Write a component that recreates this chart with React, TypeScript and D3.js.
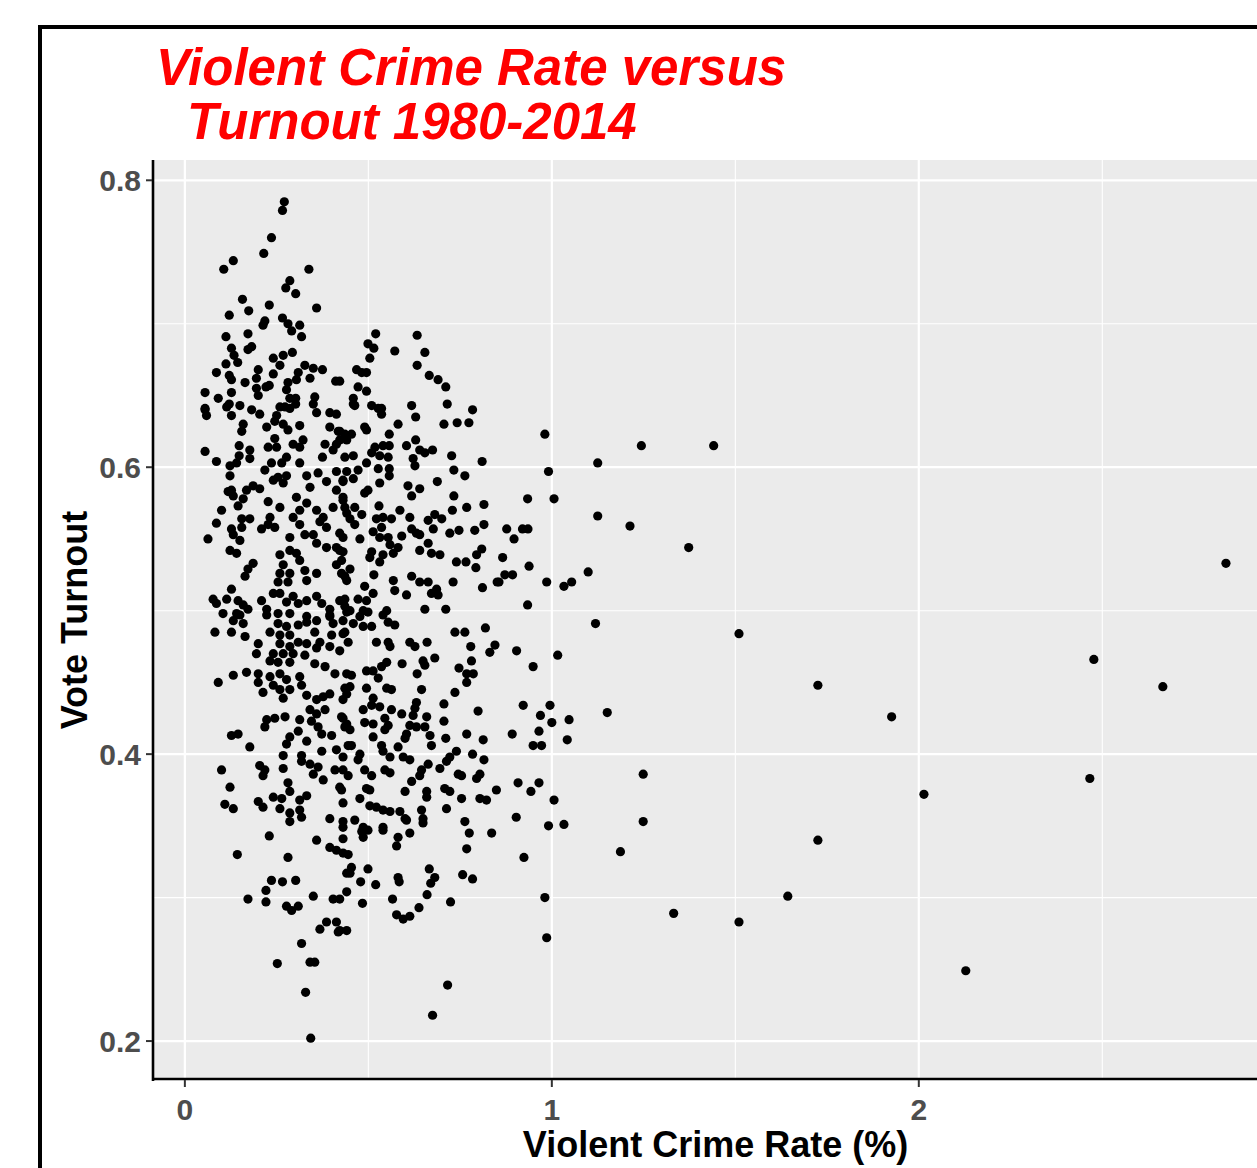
import * as d3 from "d3";

// Violent crime rate (%) vs vote turnout, one point per state-year
const crimeTurnout: [number, number][] = [
  [0.271,0.785],[0.266,0.779],[0.236,0.760],[0.215,0.749],[0.132,0.744],[0.106,0.738],[0.338,0.738],[0.286,0.730],[0.275,0.725],[0.302,0.721],
  [0.157,0.717],[0.174,0.709],[0.230,0.713],[0.359,0.711],[0.121,0.706],[0.266,0.704],[0.218,0.702],[0.213,0.699],[0.281,0.700],[0.291,0.695],
  [0.313,0.699],[0.318,0.691],[0.112,0.691],[0.172,0.693],[0.182,0.684],[0.172,0.682],[0.127,0.683],[0.134,0.678],[0.144,0.673],[0.112,0.672],
  [0.086,0.666],[0.241,0.676],[0.268,0.678],[0.293,0.680],[0.259,0.671],[0.200,0.668],[0.195,0.662],[0.121,0.664],[0.127,0.661],[0.164,0.659],
  [0.241,0.665],[0.230,0.657],[0.221,0.656],[0.327,0.671],[0.309,0.666],[0.350,0.669],[0.375,0.668],[0.341,0.662],[0.411,0.660],[0.281,0.659],
  [0.304,0.661],[0.055,0.652],[0.091,0.648],[0.127,0.652],[0.195,0.655],[0.200,0.650],[0.277,0.654],[0.286,0.648],[0.302,0.648],[0.354,0.649],
  [0.350,0.644],[0.121,0.644],[0.150,0.643],[0.055,0.641],[0.259,0.642],
  [0.520,0.693],[0.633,0.692],[0.499,0.686],[0.515,0.683],[0.572,0.681],[0.654,0.680],[0.504,0.676],[0.633,0.671],[0.468,0.668],[0.482,0.666],
  [0.495,0.666],[0.666,0.664],[0.690,0.661],[0.711,0.656],[0.422,0.660],[0.472,0.656],[0.495,0.653],[0.459,0.648],[0.463,0.643],[0.509,0.643],
  [0.536,0.641],[0.618,0.643],[0.715,0.644],[0.784,0.640],
  [0.055,0.640],[0.059,0.636],[0.114,0.642],[0.127,0.636],[0.182,0.640],[0.204,0.637],[0.250,0.636],[0.273,0.642],[0.286,0.641],[0.302,0.644],
  [0.359,0.638],[0.395,0.638],[0.413,0.637],[0.159,0.630],[0.155,0.625],[0.223,0.628],[0.245,0.632],[0.268,0.630],[0.281,0.626],[0.313,0.629],
  [0.395,0.628],[0.418,0.625],[0.436,0.623],[0.245,0.620],[0.227,0.614],[0.250,0.614],[0.295,0.616],[0.322,0.619],[0.313,0.614],[0.382,0.616],
  [0.413,0.616],[0.441,0.619],[0.148,0.615],[0.055,0.611],[0.177,0.612],[0.177,0.606],[0.148,0.608],[0.141,0.603],[0.123,0.601],[0.086,0.604],
  [0.277,0.607],[0.264,0.603],[0.313,0.603],[0.375,0.607],[0.404,0.612],[0.436,0.607],[0.123,0.594],[0.218,0.598],[0.236,0.603],[0.254,0.593],
  [0.277,0.594],[0.268,0.589],[0.241,0.591],[0.186,0.587],[0.204,0.585],[0.168,0.584],[0.332,0.594],[0.363,0.596],[0.386,0.590],[0.413,0.597],
  [0.431,0.590],[0.341,0.586],[0.413,0.584],[0.127,0.584],[0.118,0.583],[0.132,0.580],[0.159,0.578],[0.145,0.573],[0.227,0.576],[0.259,0.572],
  [0.304,0.579],[0.332,0.575],[0.295,0.565],[0.313,0.570],[0.359,0.570],[0.377,0.565],[0.404,0.572],[0.431,0.577],[0.441,0.568],[0.100,0.570],
  [0.155,0.564],[0.177,0.564],[0.232,0.565],[0.086,0.561],[0.127,0.557],[0.155,0.558],[0.132,0.553],[0.150,0.549],[0.063,0.550],[0.209,0.557],
  [0.227,0.560],[0.245,0.558],[0.286,0.551],[0.313,0.560],[0.327,0.553],[0.350,0.553],[0.359,0.547],[0.386,0.544],[0.413,0.544],[0.431,0.551],
  [0.386,0.558],[0.368,0.562],[0.123,0.542],[0.141,0.540],[0.259,0.539],[0.286,0.542],[0.304,0.540],[0.431,0.541],[0.186,0.533],[0.172,0.529],
  [0.164,0.524],[0.268,0.532],[0.286,0.526],[0.259,0.526],[0.313,0.535],[0.327,0.528],[0.332,0.521],[0.359,0.526],[0.254,0.520],[0.281,0.520],
  [0.413,0.532],[0.427,0.526],[0.441,0.521],[0.127,0.515],[0.077,0.508],[0.086,0.505],[0.114,0.508],[0.145,0.507],[0.159,0.504],[0.172,0.501],
  [0.209,0.507],[0.223,0.501],[0.241,0.512],[0.259,0.512],[0.277,0.506],[0.295,0.510],[0.309,0.505],[0.332,0.507],[0.359,0.510],[0.373,0.505],
  [0.395,0.501],[0.422,0.507],[0.436,0.503],[0.104,0.498],[0.141,0.498],[0.254,0.498],[0.286,0.498],[0.332,0.496],[0.395,0.496],
  [0.459,0.644],[0.527,0.641],[0.536,0.637],[0.629,0.635],[0.490,0.628],[0.495,0.626],[0.454,0.623],[0.557,0.623],[0.581,0.630],[0.706,0.630],
  [0.742,0.631],[0.774,0.631],[0.422,0.625],[0.422,0.619],[0.518,0.614],[0.540,0.615],[0.557,0.615],[0.509,0.610],[0.531,0.608],[0.554,0.607],
  [0.459,0.608],[0.604,0.615],[0.629,0.619],[0.640,0.612],[0.654,0.610],[0.675,0.612],[0.622,0.606],[0.627,0.601],[0.727,0.608],[0.810,0.604],
  [0.472,0.598],[0.495,0.603],[0.527,0.599],[0.557,0.599],[0.557,0.594],[0.441,0.597],[0.431,0.591],[0.459,0.592],[0.531,0.589],[0.499,0.584],
  [0.490,0.582],[0.608,0.587],[0.640,0.585],[0.618,0.580],[0.688,0.590],[0.733,0.598],[0.763,0.594],[0.733,0.580],[0.431,0.579],[0.436,0.572],
  [0.463,0.572],[0.529,0.573],[0.586,0.570],[0.729,0.570],[0.768,0.572],[0.815,0.574],[0.450,0.564],[0.482,0.567],[0.522,0.564],[0.540,0.565],
  [0.563,0.564],[0.536,0.558],[0.613,0.565],[0.663,0.563],[0.681,0.567],[0.700,0.564],[0.677,0.557],[0.463,0.560],[0.477,0.550],[0.422,0.554],
  [0.722,0.554],[0.747,0.556],[0.790,0.556],[0.815,0.560],[0.513,0.555],[0.531,0.551],[0.554,0.551],[0.591,0.552],[0.618,0.557],[0.631,0.554],
  [0.640,0.553],[0.559,0.546],[0.581,0.544],[0.568,0.540],[0.663,0.547],[0.640,0.542],[0.672,0.540],[0.695,0.539],[0.809,0.543],[0.795,0.539],
  [0.509,0.541],[0.504,0.537],[0.540,0.539],[0.531,0.534],[0.422,0.542],[0.427,0.535],[0.450,0.529],[0.436,0.524],[0.740,0.534],[0.766,0.534],
  [0.793,0.530],[0.515,0.525],[0.618,0.524],[0.640,0.520],[0.663,0.520],[0.568,0.521],[0.572,0.514],[0.604,0.511],[0.672,0.512],[0.690,0.511],
  [0.686,0.515],[0.731,0.520],[0.811,0.516],[0.851,0.520],[0.490,0.517],[0.513,0.512],[0.472,0.508],[0.495,0.507],[0.436,0.508],[0.450,0.500],
  [0.486,0.500],[0.499,0.499],[0.550,0.500],[0.654,0.501],[0.711,0.501],
  [0.132,0.493],[0.150,0.497],[0.159,0.491],[0.082,0.485],[0.127,0.485],[0.164,0.482],[0.200,0.477],[0.195,0.470],[0.223,0.497],[0.254,0.491],
  [0.277,0.489],[0.232,0.485],[0.259,0.483],[0.286,0.483],[0.309,0.490],[0.332,0.492],[0.359,0.493],[0.354,0.485],[0.395,0.497],[0.404,0.491],
  [0.431,0.493],[0.436,0.485],[0.400,0.483],[0.368,0.478],[0.359,0.474],[0.332,0.477],[0.309,0.478],[0.286,0.475],[0.259,0.477],[0.395,0.475],
  [0.422,0.472],[0.241,0.470],[0.268,0.470],[0.295,0.470],[0.327,0.469],[0.232,0.465],[0.254,0.464],[0.286,0.464],[0.354,0.463],[0.382,0.461],
  [0.409,0.456],[0.441,0.456],[0.132,0.455],[0.168,0.457],[0.091,0.450],[0.200,0.456],[0.200,0.450],[0.213,0.443],[0.232,0.454],[0.241,0.448],
  [0.259,0.456],[0.277,0.452],[0.286,0.445],[0.259,0.445],[0.268,0.439],[0.313,0.454],[0.318,0.448],[0.332,0.441],[0.359,0.438],[0.377,0.440],
  [0.395,0.442],[0.436,0.446],[0.223,0.424],[0.218,0.419],[0.245,0.425],[0.273,0.426],[0.313,0.424],[0.341,0.431],[0.359,0.428],[0.382,0.431],
  [0.345,0.423],[0.363,0.419],[0.373,0.414],[0.400,0.413],[0.431,0.425],[0.436,0.419],[0.127,0.413],[0.145,0.414],[0.177,0.405],[0.309,0.416],
  [0.286,0.412],[0.277,0.407],[0.332,0.409],[0.268,0.399],[0.318,0.399],[0.373,0.402],[0.413,0.403],[0.431,0.398],[0.445,0.406],[0.100,0.389],
  [0.204,0.392],[0.218,0.389],[0.213,0.385],[0.268,0.390],[0.318,0.395],[0.341,0.393],[0.363,0.391],[0.350,0.386],[0.377,0.382],[0.409,0.389],
  [0.431,0.389],[0.123,0.377],[0.281,0.380],[0.286,0.374],[0.241,0.370],[0.264,0.369],[0.313,0.368],[0.332,0.371],[0.427,0.375],[0.431,0.366],
  [0.109,0.365],[0.132,0.362],[0.200,0.367],[0.213,0.363],[0.259,0.362],[0.286,0.359],[0.313,0.361],[0.318,0.356],[0.286,0.353],[0.395,0.355],
  [0.431,0.353],
  [0.441,0.499],[0.477,0.496],[0.459,0.491],[0.486,0.489],[0.509,0.489],[0.540,0.497],[0.554,0.492],[0.572,0.490],[0.736,0.485],[0.763,0.485],
  [0.819,0.488],[0.431,0.484],[0.445,0.478],[0.522,0.478],[0.554,0.478],[0.559,0.475],[0.613,0.478],[0.627,0.475],[0.660,0.478],[0.779,0.475],
  [0.845,0.476],[0.831,0.471],[0.495,0.458],[0.513,0.458],[0.536,0.461],[0.550,0.464],[0.527,0.453],[0.454,0.455],[0.592,0.463],[0.633,0.456],
  [0.649,0.465],[0.654,0.462],[0.681,0.467],[0.747,0.460],[0.768,0.456],[0.781,0.465],[0.786,0.456],[0.768,0.450],[0.450,0.447],[0.441,0.442],
  [0.431,0.438],[0.495,0.446],[0.550,0.446],[0.563,0.445],[0.513,0.439],[0.509,0.434],[0.531,0.433],[0.486,0.431],[0.563,0.431],[0.645,0.445],
  [0.736,0.443],[0.706,0.435],[0.631,0.436],[0.627,0.432],[0.799,0.430],[0.427,0.426],[0.441,0.421],[0.450,0.417],[0.490,0.422],[0.513,0.421],
  [0.545,0.425],[0.554,0.420],[0.591,0.428],[0.622,0.427],[0.659,0.426],[0.706,0.423],[0.613,0.420],[0.631,0.419],[0.654,0.419],[0.545,0.417],
  [0.604,0.414],[0.600,0.411],[0.668,0.413],[0.672,0.406],[0.513,0.412],[0.711,0.411],[0.768,0.414],[0.813,0.410],[0.454,0.406],[0.536,0.406],
  [0.540,0.402],[0.581,0.405],[0.559,0.398],[0.595,0.398],[0.613,0.396],[0.477,0.400],[0.472,0.396],[0.740,0.402],[0.722,0.398],[0.784,0.400],
  [0.815,0.396],[0.713,0.395],[0.695,0.390],[0.663,0.393],[0.645,0.389],[0.640,0.385],[0.618,0.381],[0.600,0.374],[0.545,0.389],[0.559,0.387],
  [0.490,0.389],[0.509,0.385],[0.445,0.385],[0.745,0.386],[0.754,0.385],[0.804,0.386],[0.795,0.383],[0.422,0.377],[0.495,0.376],[0.504,0.375],
  [0.477,0.369],[0.659,0.374],[0.659,0.370],[0.708,0.376],[0.722,0.374],[0.754,0.369],[0.804,0.369],[0.822,0.368],[0.849,0.375],[0.504,0.364],
  [0.522,0.363],[0.540,0.361],[0.559,0.360],[0.586,0.360],[0.600,0.355],[0.463,0.354],[0.645,0.361],[0.649,0.355],[0.713,0.362],[0.763,0.353],
  [0.486,0.349],[0.540,0.349],
  [0.230,0.343],[0.359,0.340],[0.395,0.335],[0.413,0.333],[0.431,0.331],[0.431,0.349],[0.431,0.341],[0.143,0.330],[0.281,0.328],[0.236,0.312],
  [0.266,0.311],[0.302,0.312],[0.221,0.305],[0.172,0.299],[0.221,0.297],[0.350,0.301],[0.404,0.299],[0.277,0.294],[0.291,0.291],[0.309,0.294],
  [0.441,0.304],[0.441,0.317],[0.368,0.278],[0.386,0.283],[0.413,0.283],[0.418,0.276],[0.441,0.277],[0.318,0.268],[0.252,0.254],[0.341,0.255],
  [0.354,0.255],[0.329,0.234],[0.343,0.202],
  [0.482,0.346],[0.499,0.347],[0.486,0.342],[0.540,0.347],[0.604,0.354],[0.649,0.352],[0.613,0.345],[0.581,0.342],[0.577,0.336],[0.775,0.345],
  [0.836,0.345],[0.768,0.334],[0.445,0.330],[0.454,0.321],[0.450,0.317],[0.499,0.320],[0.479,0.311],[0.520,0.309],[0.422,0.299],[0.484,0.296],
  [0.581,0.314],[0.584,0.311],[0.666,0.320],[0.681,0.314],[0.670,0.310],[0.660,0.302],[0.757,0.316],[0.784,0.313],[0.566,0.299],[0.638,0.293],
  [0.724,0.297],[0.577,0.288],[0.595,0.285],[0.613,0.287],[0.422,0.277],[0.716,0.239],[0.675,0.218],
  [0.981,0.623],[1.244,0.615],[1.125,0.603],[0.991,0.597],[0.934,0.578],[1.006,0.578],[1.125,0.566],[1.213,0.559],[0.877,0.557],[0.920,0.557],
  [0.935,0.557],[0.897,0.550],[0.866,0.537],[0.938,0.531],[0.872,0.525],[0.893,0.525],[0.856,0.520],[0.986,0.520],[1.033,0.517],[1.054,0.520],
  [1.099,0.527],[0.934,0.504],[1.119,0.491],[0.904,0.472],[1.016,0.469],[0.949,0.461],
  [0.922,0.434],[0.995,0.434],[0.969,0.427],[1.000,0.422],[1.047,0.424],[1.151,0.429],[0.892,0.414],[0.965,0.416],[0.949,0.406],[0.972,0.406],
  [1.042,0.410],[0.908,0.380],[0.965,0.380],[0.943,0.374],[1.006,0.368],[1.249,0.386],[0.903,0.356],[0.991,0.350],[1.033,0.351],[1.249,0.353],
  [0.924,0.328],[1.187,0.332],[0.981,0.300],[0.986,0.272],
  [1.332,0.289],[1.510,0.283],[1.643,0.301],[1.725,0.340],[2.014,0.372],[2.128,0.249],[2.466,0.383],[1.510,0.484],[1.725,0.448],[1.926,0.426],
  [2.477,0.466],[2.665,0.447],[2.837,0.533],[1.373,0.544],[1.441,0.615],
];

const xBreaks = [0, 1, 2];
const xMinor = [0.5, 1.5, 2.5];
const yBreaks = [0.2, 0.4, 0.6, 0.8];
const yMinor = [0.3, 0.5, 0.7];

const titleLines = ["Violent Crime Rate versus", "Turnout 1980-2014"];
const xTitle = "Violent Crime Rate (%)";
const yTitle = "Vote Turnout";

const W = 1257;
const H = 1168;
const panel = { left: 154, right: 1277, top: 160, bottom: 1080 };
const font = "'Liberation Sans', Arial, sans-serif";

// ggplot-style 5% expansion of the data range
function expanded(vals: number[]): [number, number] {
  const [lo, hi] = d3.extent(vals) as [number, number];
  const pad = (hi - lo) * 0.05;
  return [lo - pad, hi + pad];
}

export default function App() {
  const x = d3
    .scaleLinear()
    .domain(expanded(crimeTurnout.map((d) => d[0])))
    .range([panel.left, panel.right]);
  const y = d3
    .scaleLinear()
    .domain(expanded(crimeTurnout.map((d) => d[1])))
    .range([panel.bottom, panel.top]);

  return (
    <svg
      width={W}
      height={H}
      style={{ position: "absolute", left: 0, top: 0, background: "#fff" }}
    >
      {/* outer frame */}
      <rect x={40} y={27} width={1400} height={1400} fill="none" stroke="#000" strokeWidth={4} />

      {/* title */}
      <text x={156} y={85} fill="#ff0000" fontFamily={font} fontSize={51} fontWeight="bold" fontStyle="italic">
        {titleLines[0]}
      </text>
      <text x={187} y={139} fill="#ff0000" fontFamily={font} fontSize={51} fontWeight="bold" fontStyle="italic">
        {titleLines[1]}
      </text>

      {/* panel */}
      <rect
        x={panel.left}
        y={panel.top}
        width={panel.right - panel.left}
        height={panel.bottom - panel.top}
        fill="#ebebeb"
      />
      {xMinor.map((v) => (
        <line key={"xm" + v} x1={x(v)} x2={x(v)} y1={panel.top} y2={panel.bottom} stroke="#fff" strokeWidth={1.1} />
      ))}
      {yMinor.map((v) => (
        <line key={"ym" + v} x1={panel.left} x2={panel.right} y1={y(v)} y2={y(v)} stroke="#fff" strokeWidth={1.1} />
      ))}
      {xBreaks.map((v) => (
        <line key={"xg" + v} x1={x(v)} x2={x(v)} y1={panel.top} y2={panel.bottom} stroke="#fff" strokeWidth={2.2} />
      ))}
      {yBreaks.map((v) => (
        <line key={"yg" + v} x1={panel.left} x2={panel.right} y1={y(v)} y2={y(v)} stroke="#fff" strokeWidth={2.2} />
      ))}

      {/* points */}
      <g fill="#000">
        {crimeTurnout.map((d, i) => (
          <circle key={i} cx={x(d[0])} cy={y(d[1])} r={4.6} />
        ))}
      </g>

      {/* axes */}
      <line x1={panel.left - 1} x2={panel.left - 1} y1={panel.top} y2={panel.bottom + 1} stroke="#000" strokeWidth={2.6} />
      <line x1={panel.left - 2} x2={W} y1={panel.bottom - 1} y2={panel.bottom - 1} stroke="#000" strokeWidth={2.6} />

      {yBreaks.map((v) => (
        <g key={"yt" + v}>
          <line x1={panel.left - 8} x2={panel.left - 2} y1={y(v)} y2={y(v)} stroke="#333" strokeWidth={2} />
          <text
            x={panel.left - 13}
            y={y(v)}
            dy="0.36em"
            textAnchor="end"
            fill="#4d4d4d"
            fontFamily={font}
            fontSize={30}
            fontWeight="bold"
          >
            {d3.format(".1f")(v)}
          </text>
        </g>
      ))}
      {xBreaks.map((v) => (
        <g key={"xt" + v}>
          <line x1={x(v)} x2={x(v)} y1={panel.bottom} y2={panel.bottom + 7} stroke="#333" strokeWidth={2} />
          <text
            x={x(v)}
            y={panel.bottom + 40}
            textAnchor="middle"
            fill="#4d4d4d"
            fontFamily={font}
            fontSize={30}
            fontWeight="bold"
          >
            {v}
          </text>
        </g>
      ))}

      {/* axis titles */}
      <text
        x={(panel.left + panel.right) / 2}
        y={1157}
        textAnchor="middle"
        fill="#000"
        fontFamily={font}
        fontSize={36}
        fontWeight="bold"
      >
        {xTitle}
      </text>
      <text
        transform={`translate(87,${(panel.top + panel.bottom) / 2}) rotate(-90)`}
        textAnchor="middle"
        fill="#000"
        fontFamily={font}
        fontSize={36}
        fontWeight="bold"
      >
        {yTitle}
      </text>
    </svg>
  );
}
